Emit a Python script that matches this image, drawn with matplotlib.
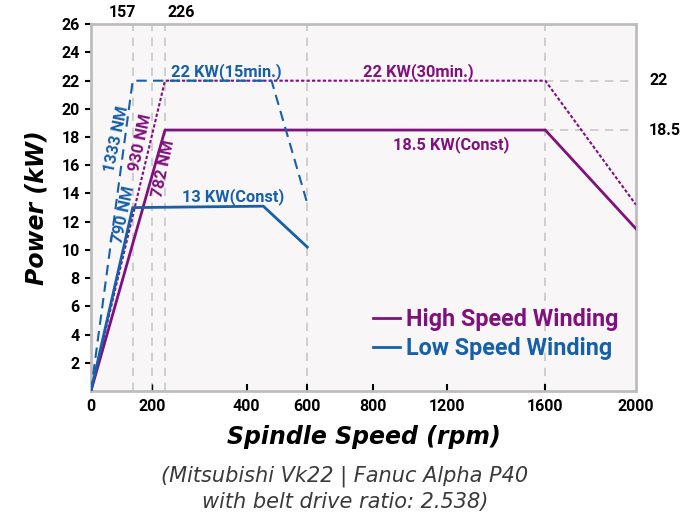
import numpy as np
import matplotlib
matplotlib.use("Agg")
import matplotlib.pyplot as plt
from matplotlib import transforms

plt.rcParams['font.family'] = ['Roboto', 'DejaVu Sans']

PURPLE = '#80107d'
BLUE = '#1660a9'

# irregular speed axis: rpm value -> drawn position
scale_rpm = [-2000, 0, 157, 200, 226, 400, 600, 800, 1200, 1600, 2000, 4000]
scale_pos = [-519, 91, 132.7, 152, 165, 246.7, 307.3, 372.7, 446.7, 545.3, 636, 1090]

# high speed winding
high_rpm = [0, 226, 1600, 2000]
high_const = [0, 18.5, 18.5, 11.5]
high_30min = [0, 22, 22, 13.2]

# low speed winding
low_const_rpm = [0, 157, 455, 600]
low_const = [0, 13, 13.1, 10.2]
low_15_rpm = [0, 157, 482, 600]
low_15min = [0, 22, 22, 13.3]

xticks = [0, 200, 400, 600, 800, 1200, 1600, 2000]
yticks = list(range(2, 27, 2))
grid_rpm = [157, 200, 226, 600, 1600]
top_labels = [157, 226]
right_levels = [22, 18.5]


def forward(x):
    return np.interp(x, scale_rpm, scale_pos)


def inverse(p):
    return np.interp(p, scale_pos, scale_rpm)


fig = plt.figure(figsize=(6.94, 5.19), dpi=100)
ax = fig.add_axes([0.1311, 0.2468, 0.7853, 0.7064])
ax.set_facecolor('#f8f6f7')
ax.set_xscale('function', functions=(forward, inverse))
ax.set_xlim(0, 2000)
ax.set_ylim(0, 26)

for g in grid_rpm:
    ax.axvline(g, color='#c8c8c8', lw=1.2, ls=(0, (5, 4)), zorder=1)
for lv in right_levels:
    ax.hlines(lv, 1600, 2000, color='#c8c8c8', lw=1.2, ls=(0, (5, 4)), zorder=1)

ax.plot(high_rpm, high_const, color=PURPLE, lw=2.0, label='High Speed Winding', zorder=3)
ax.plot(high_rpm, high_30min, color=PURPLE, lw=1.5, ls=(0, (1.6, 1.0)), zorder=3)
ax.plot(low_const_rpm, low_const, color=BLUE, lw=2.0, label='Low Speed Winding', zorder=3)
ax.plot(low_15_rpm, low_15min, color=BLUE, lw=1.5, ls=(0, (5, 3)), zorder=3)

# annotations
bold = dict(fontsize=11.8, fontweight='bold', ha='center', va='center')
ax.text(356, 22.65, '22 KW(15min.)', color=BLUE, **bold)
ax.text(1045, 22.65, '22 KW(30min.)', color=PURPLE, **bold)
ax.text(1220, 17.5, '18.5 KW(Const)', color=PURPLE, **bold)
ax.text(371, 13.77, '13 KW(Const)', color=BLUE, **bold)
ax.text(98, 17.87, '1333 NM', color=BLUE, rotation=78, **bold)
ax.text(175.5, 17.58, '930 NM', color=PURPLE, rotation=78, **bold)
ax.text(222.6, 15.74, '782 NM', color=PURPLE, rotation=78, **bold)
ax.text(124, 12.47, '790 NM', color=BLUE, rotation=78, **bold)

# top and right value labels
top_tr = transforms.blended_transform_factory(ax.transData, ax.transAxes)
for v, dx in zip(top_labels, [-7.7, 11.5]):
    ax.annotate(str(v), xy=(v, 1), xycoords=top_tr, xytext=(dx, 8.6),
                textcoords='offset points', ha='center', va='center',
                fontsize=11.5, fontweight='bold')
right_tr = transforms.blended_transform_factory(ax.transAxes, ax.transData)
for lv in right_levels:
    ax.annotate('%g' % lv, xy=(1, lv), xycoords=right_tr, xytext=(9.5, 0),
                textcoords='offset points', ha='left', va='center',
                fontsize=11.5, fontweight='bold')

ax.set_xticks(xticks)
ax.set_xticklabels([str(t) for t in xticks])
ax.set_yticks(yticks)
ax.tick_params(axis='x', direction='in', length=5, width=1.5, pad=6, labelsize=11.5)
ax.tick_params(axis='y', direction='out', length=4, width=1.5, pad=4, labelsize=11.5)
for lab in ax.get_xticklabels() + ax.get_yticklabels():
    lab.set_fontweight('bold')
ax.xaxis.get_major_ticks()[0].tick1line.set_visible(False)
ax.xaxis.get_major_ticks()[1].tick1line.set_color('#c8c8c8')
ax.xaxis.get_major_ticks()[1].tick1line.set_markeredgewidth(1)
ax.xaxis.get_major_ticks()[-1].tick1line.set_visible(False)

for sp in ax.spines.values():
    sp.set_color('#bdbdbd')
    sp.set_linewidth(2)

ax.set_ylabel('Power (kW)', fontsize=17, fontweight='bold', style='oblique',
              family='DejaVu Sans', labelpad=9)
ax.set_xlabel('Spindle Speed (rpm)', fontsize=17, fontweight='bold', style='oblique',
              family='DejaVu Sans', labelpad=8)

fig.text(0.497, 0.059, '(Mitsubishi Vk22 | Fanuc Alpha P40\nwith belt drive ratio: 2.538)',
         ha='center', va='center', fontsize=15, style='oblique', family='DejaVu Sans',
         color='#3a3a3a', linespacing=1.32)

leg = ax.legend(loc='lower left', bbox_to_anchor=(0.5174, 0.084), frameon=False,
                borderpad=0, borderaxespad=0, handlelength=1.16, handletextpad=0.26,
                labelspacing=0.25, prop={'size': 16.8, 'weight': 'bold'})
for txt, line in zip(leg.get_texts(), leg.get_lines()):
    txt.set_color(line.get_color())

fig.savefig('out.png', dpi=100)
